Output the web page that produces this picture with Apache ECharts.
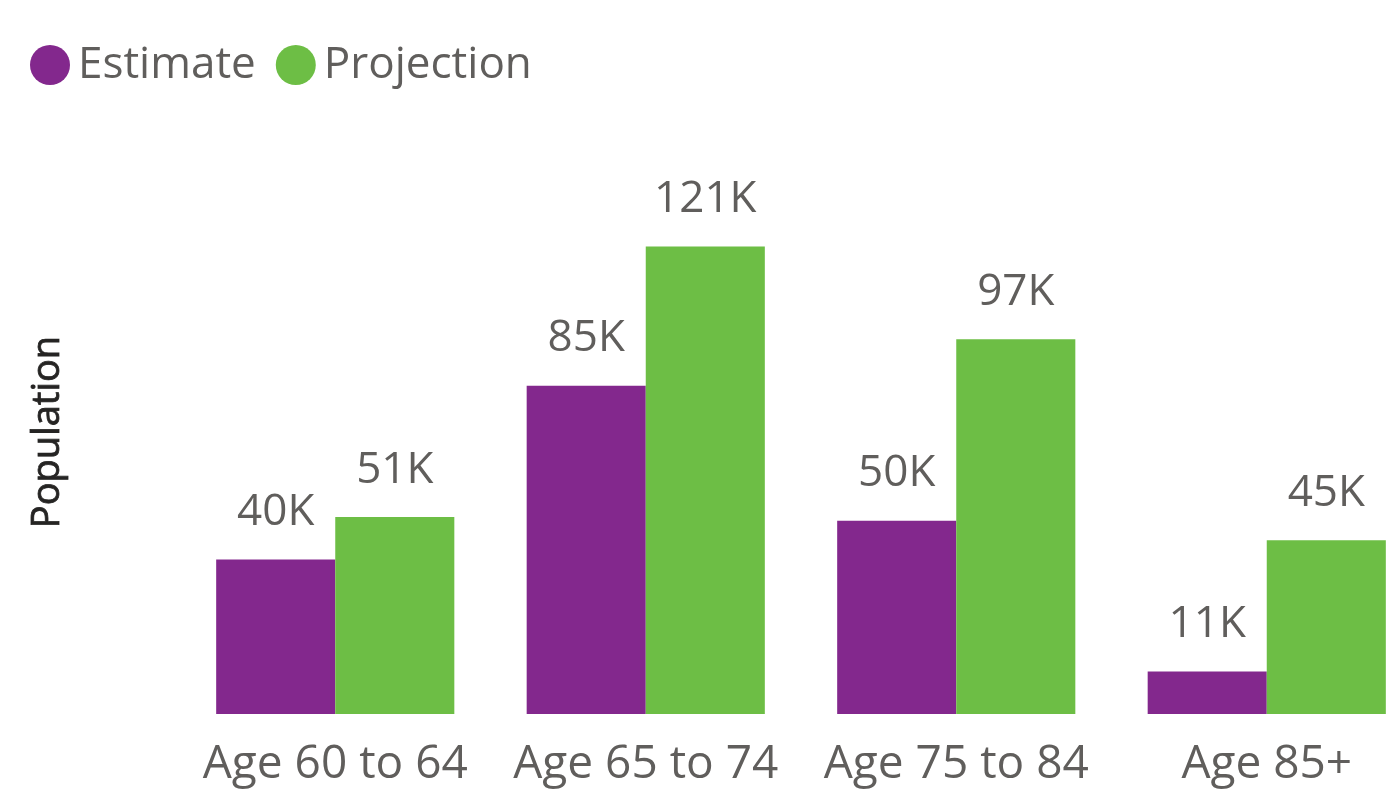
<!DOCTYPE html>
<html><head><meta charset="utf-8">
<script src="https://cdn.jsdelivr.net/npm/echarts@6/dist/echarts.min.js"></script>
<style>html,body{margin:0;padding:0;background:#fff}#c{width:1399px;height:804px}</style>
</head><body><div id="c"></div>
<script>
const categories = ['Age 60 to 64', 'Age 65 to 74', 'Age 75 to 84', 'Age 85+'];
const estimate = [40, 85, 50, 11];
const projection = [51, 121, 97, 45];
const seriesNames = ['Estimate', 'Projection'];
const colors = ['#83288D', '#6DBE45'];

const FONT = '"Open Sans", "Noto Sans", sans-serif';
const chart = echarts.init(document.getElementById('c'));
const labelCfg = {
  show: true, position: 'top', distance: 25,
  color: '#605E5C', fontSize: 44, fontFamily: FONT,
  formatter: p => p.value + 'K'
};
chart.setOption({
  animation: false,
  textStyle: { fontFamily: FONT },
  legend: {
    left: 25, top: 38, icon: 'circle', itemWidth: 40, itemHeight: 40, itemGap: 20,
    textStyle: { color: '#605E5C', fontSize: 44, fontFamily: FONT, padding: [0, 0, 0, 3] },
    data: seriesNames
  },
  grid: { left: 180, width: 1242, top: 150, bottom: 90, containLabel: false, outerBoundsMode: 'none' },
  xAxis: {
    type: 'category', data: categories,
    axisLine: { show: false }, axisTick: { show: false },
    axisLabel: { color: '#605E5C', fontSize: 46, fontFamily: FONT, margin: 28, interval: 0 }
  },
  yAxis: {
    type: 'value', min: 0, max: 146,
    name: 'Population', nameLocation: 'middle', nameRotate: 90, nameGap: 113,
    nameTextStyle: { color: '#252423', fontSize: 38, fontWeight: 'normal', fontFamily: FONT,
      textBorderColor: '#252423', textBorderWidth: 0.8 },
    axisLine: { show: false }, axisTick: { show: false },
    axisLabel: { show: false }, splitLine: { show: false }
  },
  series: [
    { name: seriesNames[0], type: 'bar', data: estimate, itemStyle: { color: colors[0] },
      barGap: '0%', barCategoryGap: '23.3%', label: labelCfg },
    { name: seriesNames[1], type: 'bar', data: projection, itemStyle: { color: colors[1] },
      barGap: '0%', barCategoryGap: '23.3%', label: labelCfg }
  ]
});
</script></body></html>
